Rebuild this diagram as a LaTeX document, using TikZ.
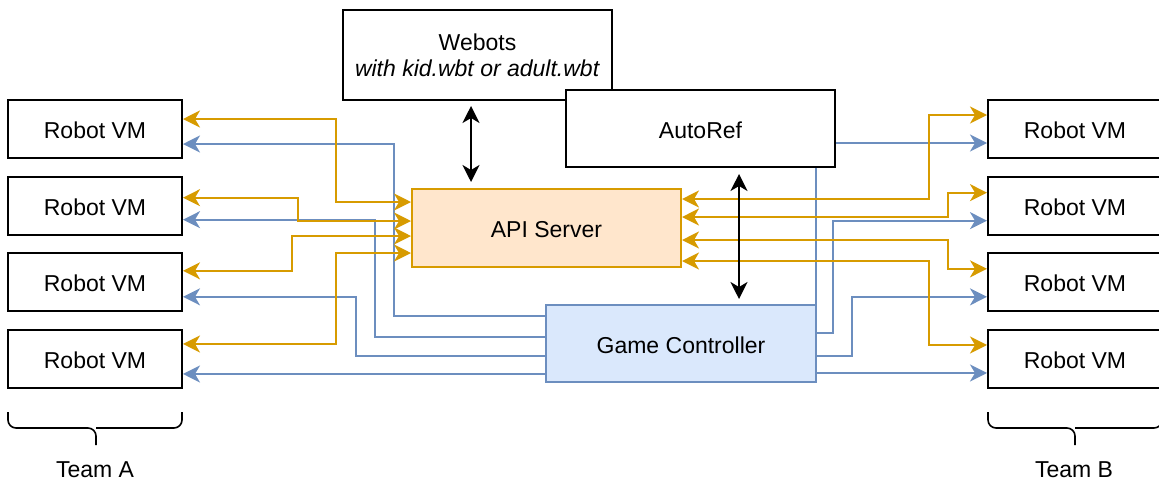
\documentclass[tikz,border=0pt]{standalone}
\usepackage{fontspec}
\setmainfont{Liberation Sans}
\usetikzlibrary{positioning,arrows.meta}

\definecolor{apiline}{HTML}{D79B00}
\definecolor{apifill}{HTML}{FFE6CC}
\definecolor{gcline}{HTML}{6C8EBF}
\definecolor{gcfill}{HTML}{DAE8FC}

\tikzstyle{vm} = [rectangle, draw, line width=1pt, fill=white,
    minimum width=87pt, minimum height=29pt, inner sep=0pt,
    text height=9.6pt, text depth=0pt]
\tikzstyle{block} = [vm, minimum width=134.5pt, minimum height=38.5pt]
\tikzstyle{oline} = [draw, line width=1pt, color=apiline, <->]
\tikzstyle{bline} = [draw, line width=1pt, color=gcline, <-]
\tikzstyle{kline} = [draw, line width=1pt, color=black, <->]
\tikzstyle{brace} = [draw, line width=0.8pt, rounded corners=4pt]

\begin{document}
\begin{tikzpicture}[x=0.5pt, y=-0.5pt, node distance=38.33pt,
    >={Stealth[length=8.5pt, width=8.5pt, inset=2.5pt]},
    font=\fontsize{11.5}{13}\selectfont]
	\useasboundingbox (0,0) rectangle (1159,483);
	% Nodes
	\node [vm] (L1) at (95,129) {Robot VM};
	\node [vm, below of=L1] (L2) {Robot VM};
	\node [vm, below of=L2] (L3) {Robot VM};
	\node [vm, below of=L3] (L4) {Robot VM};
	\node [vm, right of=L1, node distance=490pt] (R1) {Robot VM};
	\node [vm, below of=R1] (R2) {Robot VM};
	\node [vm, below of=R2] (R3) {Robot VM};
	\node [vm, below of=R3] (R4) {Robot VM};
	\node [block, minimum height=45pt, text height=, text depth=, align=center] (Webots) at (477.5,55) {Webots\\\textit{with kid.wbt or adult.wbt}};
	\node [block, minimum height=39pt, draw=apiline, fill=apifill] (API) at (546.5,228) {API Server};
	\node [block, minimum width=135pt, draw=gcline, fill=gcfill] (GC) at (681,343.5) {Game Controller};

	% Arrows
	\path [bline] ([yshift=-7.5pt]L1.east) -- ++(211,0) |- ([yshift=13.75pt]GC.west);
	\path [bline] ([yshift=-7pt]L2.east) -- ++(192,0) |- ([yshift=3.25pt]GC.west);
	\path [bline] ([yshift=-7.25pt]L3.east) -- ++(173,0) |- ([yshift=-6.25pt]GC.west);
	\path [bline] ([yshift=-7.5pt]L4.east) -- ([yshift=-7.5pt]L4.east -| GC.west);
	\path [bline] ([yshift=-7pt]R1.west) -| ([xshift=-0.5pt]GC.north east);
	\path [bline] ([yshift=-7.5pt]R2.west) -- ++(-154,0) |- ([yshift=5.25pt]GC.east);
	\path [bline] ([yshift=-7.25pt]R3.west) -- ++(-135,0) |- ([yshift=-6.25pt]GC.east);
	\path [bline] ([yshift=-7pt]R4.west) -- ([yshift=-7pt]R4.west -| GC.east);

	\path [oline] ([yshift=5pt]L1.east) -- ++(153,0) |- ([yshift=13pt]API.west);
	\path [oline] ([yshift=4pt]L2.east) -- ++(115,0) |- ([yshift=3.5pt]API.west);
	\path [oline] ([yshift=5.75pt]L3.east) -- ++(109,0) |- ([yshift=-4pt]API.west);
	\path [oline] ([yshift=7.5pt]L4.east) -- ++(153,0) |- ([yshift=-12.5pt]API.west);
	\path [oline] ([yshift=7pt]R1.west) -- ++(-58,0) |- ([yshift=14.5pt]API.east);
	\path [oline] ([yshift=6.5pt]R2.west) -- ++(-39,0) |- ([yshift=5.5pt]API.east);
	\path [oline] ([yshift=6.75pt]R3.west) -- ++(-39,0) |- ([yshift=-6pt]API.east);
	\path [oline] ([yshift=7pt]R4.west) -- ++(-58,0) |- ([yshift=-16.5pt]API.east);

	% AutoRef goes over the blue line
	\node [block] (AutoRef) at (700.5,128.5) {AutoRef};

	\path [kline, shorten <=2.5pt, shorten >=3pt] ([xshift=-3.25pt]Webots.south) -- ([xshift=-3.25pt]Webots.south |- API.north);
	\path [kline, shorten <=3pt, shorten >=2.5pt] ([xshift=19.25pt]AutoRef.south) -- ([xshift=19.25pt]AutoRef.south |- GC.north);

	% Teams
	\path [brace] (8,412) -- (8,428) -- (96,428) -- (96,445);
	\path [brace] (182,412) -- (182,428) -- (96,428);
	\path [brace] (988,412) -- (988,428) -- (1075,428) -- (1075,445);
	\path [brace] (1162,412) -- (1162,428) -- (1075,428);
	\node (TeamA) at (95,470) {Team A};
	\node (TeamB) at (1074,470) {Team B};
\end{tikzpicture}
\end{document}
